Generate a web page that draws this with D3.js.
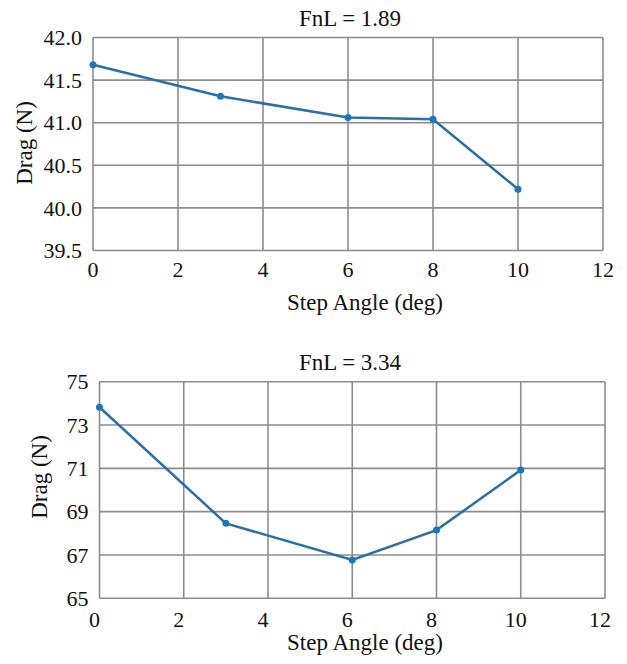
<!DOCTYPE html>
<html lang="en">
<head>
  <meta charset="UTF-8">
  <title>Drag vs Step Angle</title>
  <script src="https://d3js.org/d3.v7.min.js"></script>
  <style>
    body { margin: 0; background: #fff; }
    svg text { font-family: 'Liberation Serif', 'Times New Roman', serif; fill: #111; }
  </style>
</head>
<body>
  <div id="chart"></div>
  <script>
    // Data
    const stepAngles = [0, 3, 6, 8, 10];
    const dragFn189 = [41.68, 41.31, 41.06, 41.04, 40.22];
    const dragFn334 = [73.82, 68.46, 66.77, 68.15, 70.92];
    const xTicks = [0, 2, 4, 6, 8, 10, 12];
    const yTicksTop = [39.5, 40.0, 40.5, 41.0, 41.5, 42.0];
    const yTicksBottom = [65, 67, 69, 71, 73, 75];

    const svg = d3.select("#chart").append("svg")
      .attr("width", 627)
      .attr("height", 664);

    const panels = [
      { title: "FnL = 1.89", values: dragFn189, yTicks: yTicksTop, fmt: d3.format(".1f"),
        left: 93, right: 603, top: 37.5, bottom: 250.5, tickShift: 0,
        titleY: 26, tickY: 277, labelY: 310, yLabelX: 32, yLabelY: 143 },
      { title: "FnL = 3.34", values: dragFn334, yTicks: yTicksBottom, fmt: d3.format("d"),
        left: 99.5, right: 605, top: 381.7, bottom: 598.3, tickShift: -5,
        titleY: 370, tickY: 627, labelY: 650, yLabelX: 47, yLabelY: 477 }
    ];

    panels.forEach(p => {
      const x = d3.scaleLinear().domain([0, 12]).range([p.left, p.right]);
      const y = d3.scaleLinear()
        .domain([p.yTicks[0], p.yTicks[p.yTicks.length - 1]])
        .range([p.bottom, p.top]);
      const g = svg.append("g");

      // grid
      g.selectAll(".vgrid").data(xTicks).enter().append("line")
        .attr("x1", d => x(d)).attr("x2", d => x(d))
        .attr("y1", p.top).attr("y2", p.bottom)
        .attr("stroke", "#8c8c8c").attr("stroke-width", 1.6);
      g.selectAll(".hgrid").data(p.yTicks).enter().append("line")
        .attr("x1", p.left).attr("x2", p.right)
        .attr("y1", d => y(d)).attr("y2", d => y(d))
        .attr("stroke", "#8c8c8c").attr("stroke-width", 1.6);

      // tick labels
      g.selectAll(".xt").data(xTicks).enter().append("text")
        .attr("x", d => x(d) + p.tickShift).attr("y", p.tickY)
        .attr("text-anchor", "middle")
        .style("font-size", "22px")
        .text(d => d);
      g.selectAll(".yt").data(p.yTicks).enter().append("text")
        .attr("x", p.left - 11).attr("y", d => y(d))
        .attr("dy", "0.35em")
        .attr("text-anchor", "end")
        .style("font-size", "22px")
        .text(d => p.fmt(d));

      // line and markers
      const pts = stepAngles.map((a, i) => [a, p.values[i]]);
      g.append("path")
        .datum(pts)
        .attr("fill", "none")
        .attr("stroke", "#2c6ea6")
        .attr("stroke-width", 2.5)
        .attr("d", d3.line().x(d => x(d[0])).y(d => y(d[1])));
      g.selectAll(".pt").data(pts).enter().append("circle")
        .attr("cx", d => x(d[0])).attr("cy", d => y(d[1]))
        .attr("r", 3.5)
        .attr("fill", "#1a78b8");

      // titles
      g.append("text")
        .attr("x", 350).attr("y", p.titleY)
        .attr("text-anchor", "middle")
        .style("font-size", "23px")
        .text(p.title);
      g.append("text")
        .attr("x", 365).attr("y", p.labelY)
        .attr("text-anchor", "middle")
        .style("font-size", "23px")
        .text("Step Angle (deg)");
      g.append("text")
        .attr("transform", `translate(${p.yLabelX}, ${p.yLabelY}) rotate(-90)`)
        .attr("text-anchor", "middle")
        .style("font-size", "23px")
        .text("Drag (N)");
    });
  </script>
</body>
</html>
